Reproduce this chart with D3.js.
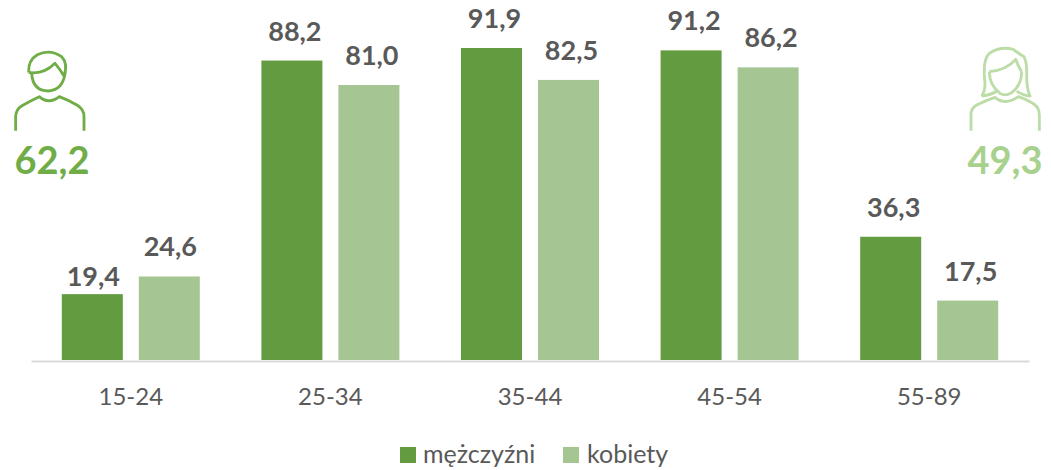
<!DOCTYPE html>
<html>
<head>
<meta charset="utf-8">
<title>Wskaznik</title>
<style>
  html,body{margin:0;padding:0;background:#fff;}
  svg{display:block;}
  text{font-family:Lato,sans-serif;fill:#595959;}
  .value{font-size:27px;font-weight:700;text-anchor:middle;}
  .tick-label{text-anchor:middle;}
  .legend-label{font-size:25px;}
  .total{font-size:38px;font-weight:700;text-anchor:middle;}
  .icon{fill:none;stroke-width:8.5;stroke-linecap:butt;stroke-linejoin:round;}
</style>
</head>
<body>
<svg id="chart" xmlns="http://www.w3.org/2000/svg"></svg>
<script src="https://d3js.org/d3.v7.min.js"></script>
<script>
var categories = ["15-24","25-34","35-44","45-54","55-89"];
var seriesNames = ["mężczyźni","kobiety"];
var men = [19.4,88.2,91.9,91.2,36.3];
var women = [24.6,81.0,82.5,86.2,17.5];
var totals = ["62,2","49,3"];

var width = 1051, height = 470;
var colors = ["#639B41","#A5C592"];
var iconColors = ["#70AD47","#BCDCA8"];
var totalColors = ["#70AD47","#A9D18E"];

var svg = d3.select("#chart").attr("width",width).attr("height",height);

var x0 = d3.scaleBand().domain(categories).range([31,1029]);
var x1 = d3.scaleBand().domain(seriesNames).range([0,138]).paddingInner(16/77);
var y = d3.scaleLinear().domain([0,91.9]).range([360,48]);
var pad = (x0.bandwidth()-138)/2;
var fmt = function(v){ return v.toFixed(1).replace(".",","); };

seriesNames.forEach(function(name,i){
  var values = i===0 ? men : women;
  var g = svg.append("g");
  g.selectAll("rect").data(values).enter().append("rect")
    .attr("x",function(d,j){ return x0(categories[j])+pad+x1(name); })
    .attr("y",function(d){ return y(d); })
    .attr("width",x1.bandwidth())
    .attr("height",function(d){ return y(0)-y(d); })
    .attr("fill",colors[i]);
  g.selectAll("text").data(values).enter().append("text")
    .attr("class","value")
    // labels sit a little right of the bar centre, less so in the first group
    .attr("x",function(d,j){ return x0(categories[j])+pad+x1(name)+x1.bandwidth()/2+(j===0 ? 1 : 3); })
    // the first men's label sits closer to its bar in the original
    .attr("y",function(d,j){ return y(d)-(i===0&&j===0 ? 8 : 20); })
    .text(fmt);
});

// axis
var axis = svg.append("g").attr("transform","translate(0,361)")
  .call(d3.axisBottom(x0).tickSize(0));
axis.attr("font-family",null).attr("font-size",null);
axis.select(".domain").attr("stroke","#d9d9d9").attr("stroke-width",2);
axis.selectAll(".tick text")
  .attr("class","tick-label")
  .attr("y",44).attr("dy",null).attr("fill",null)
  .style("font-size","24px");

// legend
var legendX = [400,563], legendTextX = [423,587];
var legend = svg.selectAll("g.legend").data(seriesNames).enter().append("g").attr("class","legend");
legend.append("rect")
  .attr("x",function(d,i){ return legendX[i]; })
  .attr("y",447).attr("width",16).attr("height",16)
  .attr("fill",function(d,i){ return colors[i]; });
legend.append("text").attr("class","legend-label")
  .attr("x",function(d,i){ return legendTextX[i]; })
  .attr("y",463)
  .text(function(d){ return d; });

// icons, traced at 3x and scaled down
var manPaths = [
  "M47,272 L47,228 Q48,208 66,197 Q92,182 118,170 Q146,195 178,170 Q205,180 232,196 Q252,208 252,230 L252,272",
  "M86,97 Q84,60 112,44 Q150,26 185,50 Q205,70 192,108",
  "M86,97 Q130,105 165,70 Q178,85 192,108",
  "M95,100 Q98,152 145,153 Q190,150 196,95"
];
var womanPaths = [
  "M63,272 L63,220 Q64,205 80,195 Q105,182 135,172 Q165,198 205,170 Q235,180 255,195 Q268,205 268,225 L268,272",
  "M95,168 Q108,150 104,120 Q98,60 118,40 Q150,18 190,28 Q205,40 222,50 Q232,70 230,110 Q230,145 240,168 Q215,165 200,153",
  "M95,168 Q125,165 145,150",
  "M118,95 Q170,90 197,58 Q205,80 215,95",
  "M118,95 Q118,135 150,160 Q165,170 185,158 Q215,135 215,95"
];

function drawIcon(paths,dx,color){
  var g = svg.append("g").attr("class","icon")
    .attr("transform","translate("+dx+",40) scale("+(1/3)+")")
    .attr("stroke",color);
  g.selectAll("path").data(paths).enter().append("path").attr("d",function(d){ return d; });
}
drawIcon(manPaths,0,iconColors[0]);
drawIcon(womanPaths,950,iconColors[1]);

svg.append("text").attr("class","total").attr("x",52).attr("y",174).style("fill",totalColors[0]).text(totals[0]);
svg.append("text").attr("class","total").attr("x",1005).attr("y",174).style("fill",totalColors[1]).text(totals[1]);
</script>
</body>
</html>
